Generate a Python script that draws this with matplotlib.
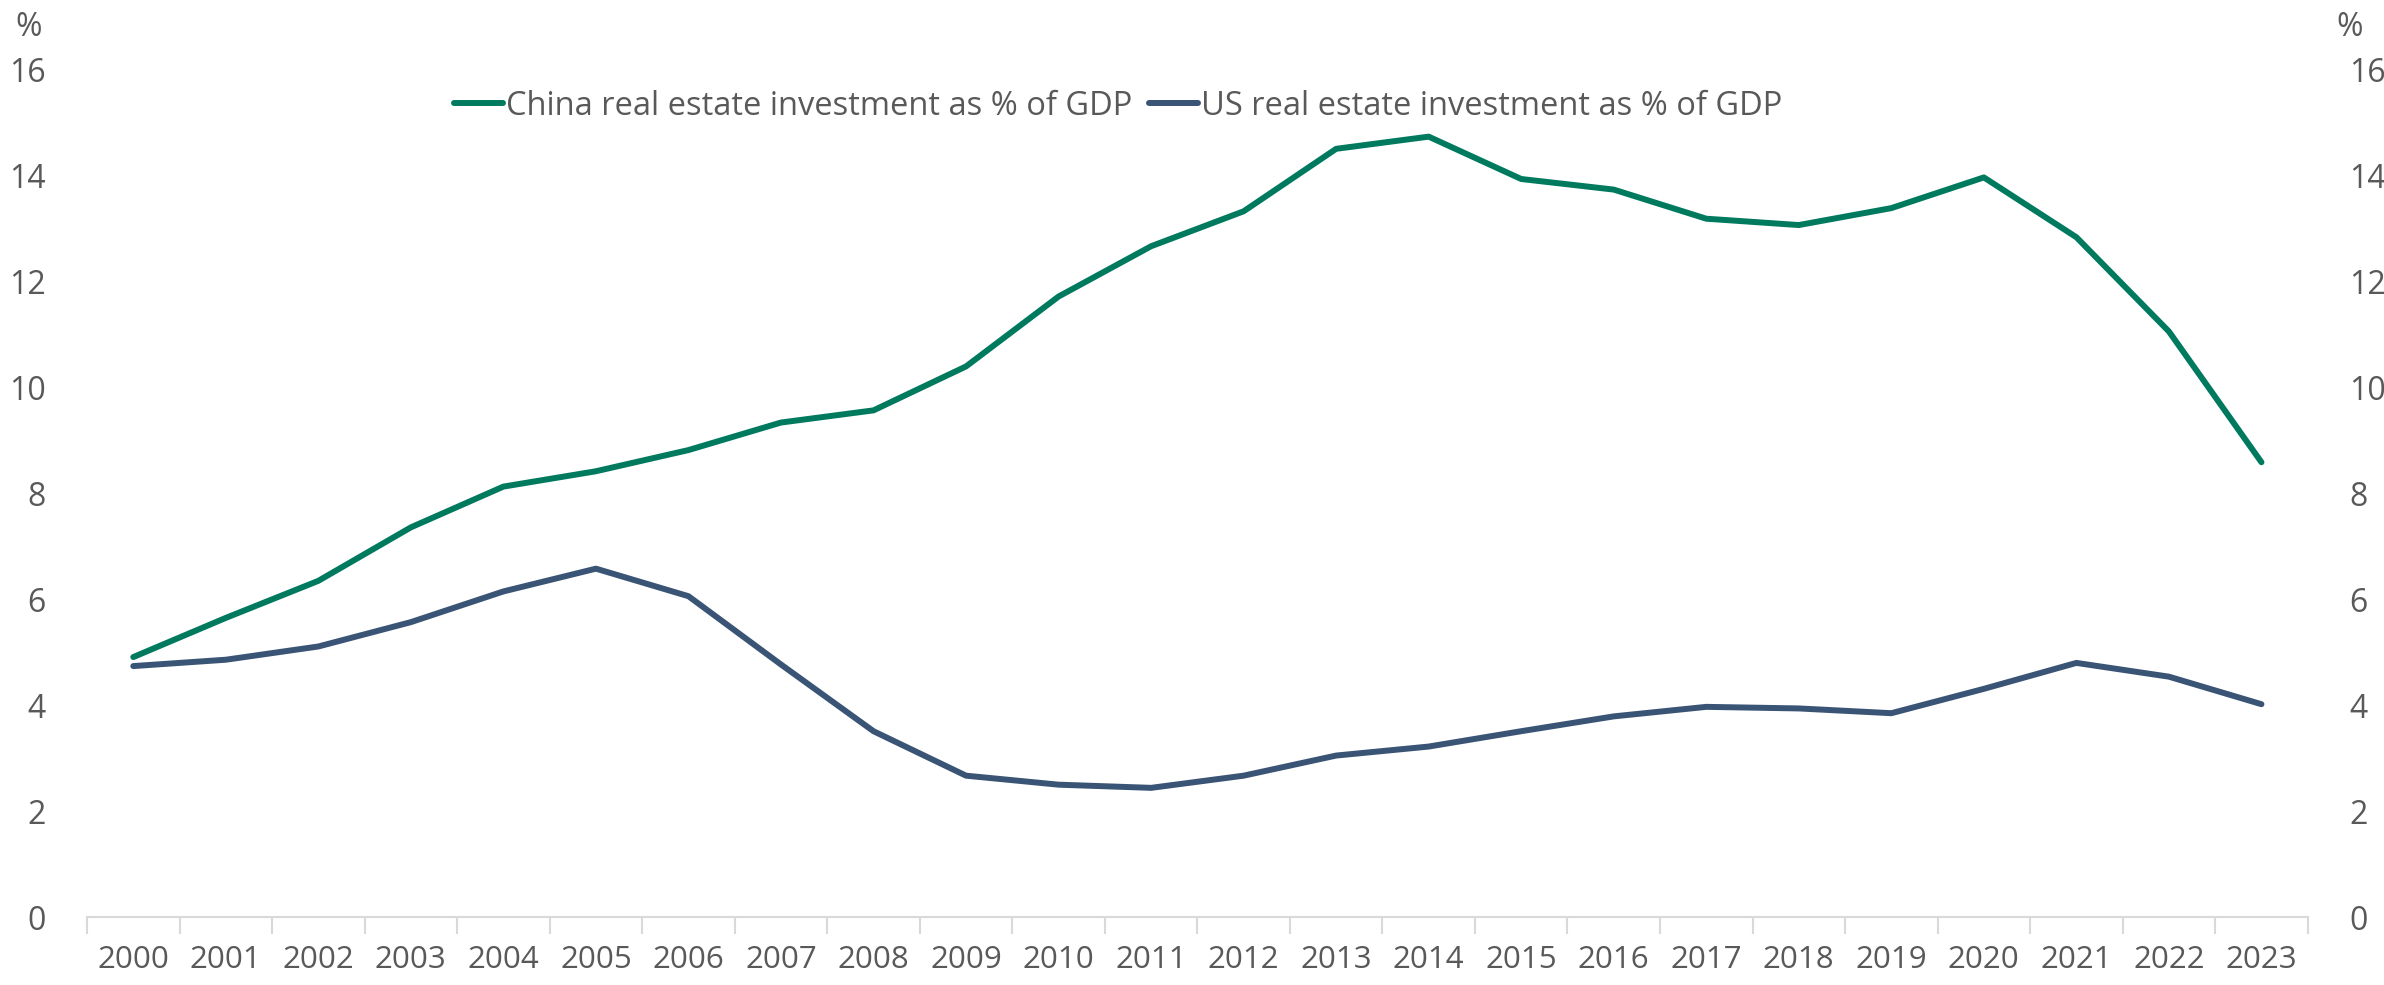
import matplotlib
matplotlib.use("Agg")
import matplotlib.pyplot as plt
import numpy as np

plt.rcParams['font.family'] = ['Open Sans', 'DejaVu Sans']

years = [str(y) for y in range(2000, 2024)]
china = [4.91, 5.65, 6.35, 7.36, 8.13, 8.42, 8.82, 9.34, 9.57, 10.40, 11.72, 12.67,
         13.33, 14.51, 14.74, 13.94, 13.74, 13.19, 13.07, 13.39, 13.97, 12.84, 11.06, 8.59]
us = [4.74, 4.86, 5.11, 5.57, 6.15, 6.58, 6.06, 4.77, 3.51, 2.67, 2.50, 2.44,
      2.67, 3.05, 3.22, 3.51, 3.79, 3.97, 3.94, 3.85, 4.31, 4.80, 4.54, 4.02]
series_names = ["China real estate investment as % of GDP", "US real estate investment as % of GDP"]
yticks = [0, 2, 4, 6, 8, 10, 12, 14, 16]

GREEN = "#007A5E"
NAVY = "#3A5475"
TXT = "#595959"
AX = "#D9D9D9"

fig = plt.figure(figsize=(23.84, 9.85), dpi=100)
ax = fig.add_axes([0.0365, 0.069, 0.9315, 0.860])
x = np.arange(len(years))
ax.plot(x, china, color=GREEN, lw=4.3, label=series_names[0], solid_joinstyle='round', solid_capstyle='round')
ax.plot(x, us, color=NAVY, lw=4.3, label=series_names[1], solid_joinstyle='round', solid_capstyle='round')

ax.set_xlim(-0.5, len(years) - 0.5)
ax.set_ylim(0, 16)
ax.set_yticks(yticks)
ax.set_xticks(x)
ax.set_xticklabels(years)
ax.set_xticks(np.arange(-0.5, len(years), 1.0), minor=True)
ax.tick_params(axis='x', which='major', length=0, pad=20, labelsize=22.5, colors=TXT)
ax.tick_params(axis='x', which='minor', length=12, width=1.5, color=AX)
ax.tick_params(axis='y', length=0, pad=30, labelsize=23, colors=TXT)
for s in ['top', 'left', 'right']:
    ax.spines[s].set_visible(False)
ax.spines['bottom'].set_color(AX)
ax.spines['bottom'].set_linewidth(1.5)

ax2 = ax.twinx()
ax2.set_ylim(0, 16)
ax2.set_yticks(yticks)
ax2.tick_params(axis='y', length=0, pad=30, labelsize=23, colors=TXT)
for s in ['top', 'left', 'right', 'bottom']:
    ax2.spines[s].set_visible(False)

fig.text(0.0118, 0.972, "%", fontsize=23, color=TXT, ha='center', va='center')
fig.text(0.9855, 0.972, "%", fontsize=23, color=TXT, ha='center', va='center')

leg = ax.legend(loc='center', bbox_to_anchor=(0.469, 0.892), bbox_transform=fig.transFigure,
                ncol=2, frameon=False, fontsize=23.5, handlelength=1.5, handletextpad=0.1,
                columnspacing=0.5)
for t in leg.get_texts():
    t.set_color(TXT)

fig.savefig("out.png", dpi=100)
